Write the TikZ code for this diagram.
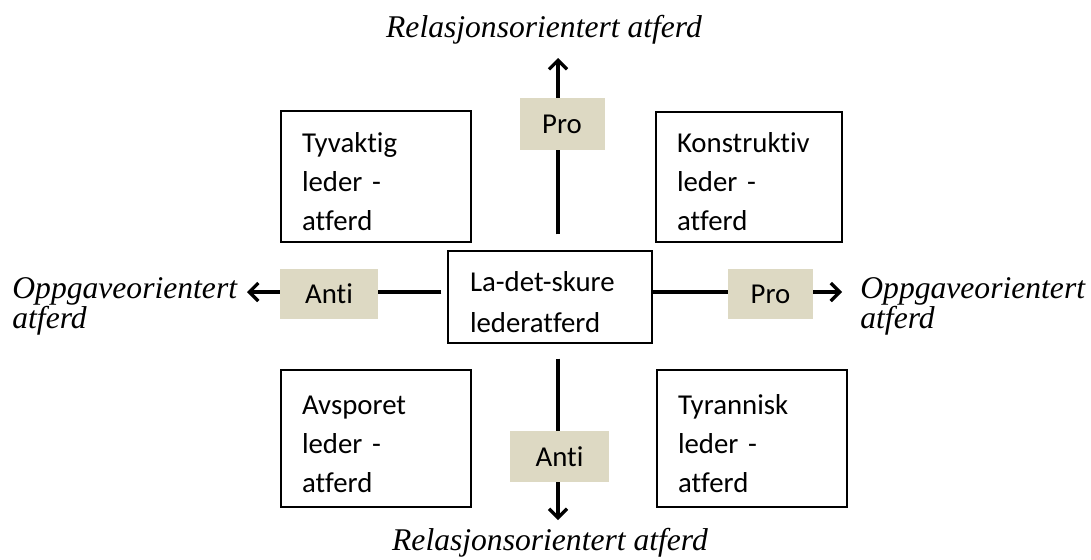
\documentclass[tikz,border=0pt]{standalone}
\usepackage{fontspec}
\setmainfont{Liberation Serif}
\newfontfamily\boxfamily[Ligatures=NoCommon]{Carlito}
\usepackage{xcolor}
\definecolor{colTan}{RGB}{221,217,195}
\usepackage{tikz}
\usetikzlibrary{arrows.meta, positioning}
\newcommand{\calib}{\boxfamily\fontsize{14.4}{19.5}\selectfont}
\tikzset{
	ledbox/.style={draw, line width=0.65pt, font=\calib, align=left, text width=74pt, inner xsep=10.5pt, inner ysep=0pt, minimum height=#1, execute at begin node={\rule{0pt}{15pt}}},
	tanbox/.style={fill=colTan, font=\calib, minimum width=#1, minimum height=25pt, inner sep=0pt},
	axislabel/.style={font=\fontsize{15.8}{15}\selectfont\itshape, inner sep=0pt},
	axisarr/.style={-{Straight Barb[length=4.5pt,width=9pt]}, line width=1.6pt},
}

\begin{document}
\begin{tikzpicture}[x=0.5pt, y=0.5pt]
	\useasboundingbox (0,0) rectangle (1091,559);
	% centre and the four corners
	\node[ledbox=46pt, text width=80pt, inner xsep=11pt] (mid) at (550,262) {La-det-skure\\[1pt]lederatferd};
	\node[ledbox=65.5pt] (tyv) at (376,382.5) {Tyvaktig\\leder -\\atferd};
	\node[ledbox=65pt, text width=72pt] (kon) at (749,382) {Konstruktiv\\leder -\\atferd};
	\node[ledbox=68.5pt] (avs) at (376,120.5) {Avsporet\\leder -\\atferd};
	\node[ledbox=68.5pt, line width=1.15pt] (tyr) at (752,120.5) {Tyrannisk\\leder -\\atferd};
	% axis labels
	\node[axislabel, anchor=base] (relN) at (544,522) {Relasjonsorientert atferd};
	\node[axislabel, anchor=base] (relS) at (550,9) {Relasjonsorientert atferd};
	\node[axislabel, anchor=base west, align=left] (oppW) at (12,231) {Oppgaveorientert\\atferd};
	\node[axislabel, anchor=base west, align=left] (oppE) at (860,231) {Oppgaveorientert\\atferd};
	% arrow tips
	\coordinate (tipN) at (558,501);
	\coordinate (tipS) at (558,39);
	\coordinate (tipW) at (247,267);
	\coordinate (tipE) at (842,267);
	\draw[axisarr, shorten <=8pt] (mid.north -| tipN) -- (tipN);
	\draw[axisarr, shorten <=7.5pt] (mid.south -| tipS) -- (tipS);
	\draw[axisarr, shorten <=3pt] (mid.west |- tipW) -- (tipW);
	\draw[axisarr] (mid.east |- tipE) -- (tipE);
	% pro / anti tags
	\node[tanbox=42.5pt, minimum height=26pt] (proN) at (562,435) {Pro};
	\node[tanbox=49pt] (antiW) at (329,265) {Anti};
	\node[tanbox=42.5pt] (proE) at (770.5,265) {Pro};
	\node[tanbox=49.5pt, minimum height=25.5pt] (antiS) at (559.5,102.5) {Anti};
\end{tikzpicture}
\end{document}
